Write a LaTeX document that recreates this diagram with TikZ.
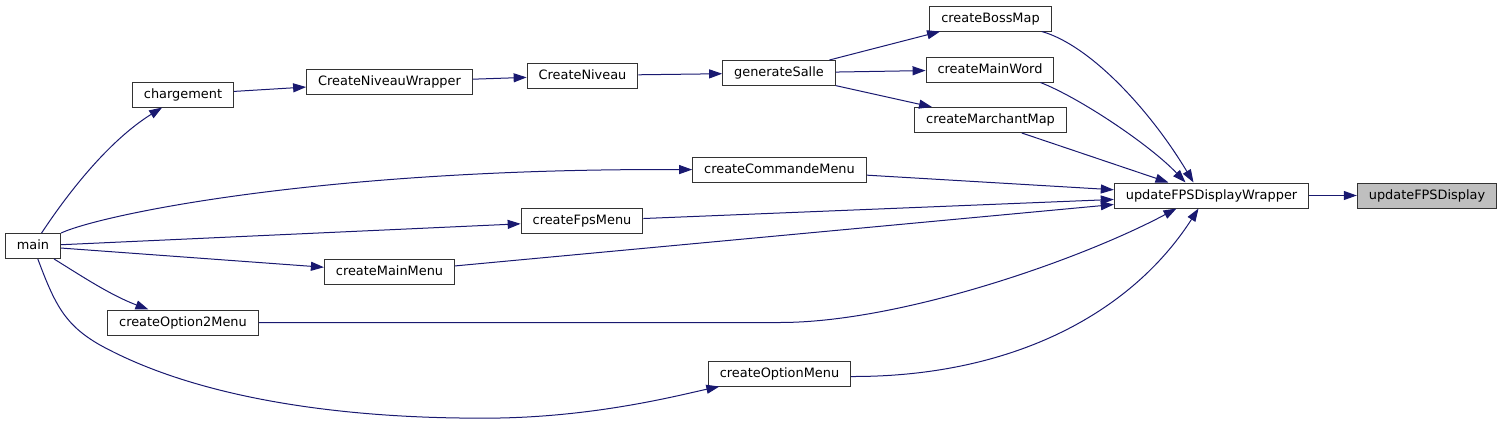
\documentclass[tikz,border=0pt]{standalone}
\usepackage{fontspec}
\setmainfont{DejaVu Sans}
\usepackage{tikz}
\usetikzlibrary{arrows.meta}
\definecolor{edgeblue}{RGB}{25,25,112}
\begin{document}
\begin{tikzpicture}[
x=1pt, y=-1pt,
box/.style={draw=black!80, line width=1pt, fill=white, inner xsep=11.5pt, inner ysep=0pt, minimum height=25pt, text height=9.5pt, text depth=2.5pt, font=\fontsize{12.9}{15}\selectfont},
arr/.style={-{Triangle[length=13pt,width=9pt]}, edgeblue, line width=1pt}
]
\useasboundingbox (0,0) rectangle (1503,423);
\node[box] (main) at (33,246) {main};
\node[box] (charg) at (183,94.5) {chargement};
\node[box] (niveauwrap) at (389.5,82) {CreateNiveauWrapper};
\node[box] (niveau) at (582.5,75.5) {CreateNiveau};
\node[box] (salle) at (779,73) {generateSalle};
\node[box] (bossmap) at (990.5,18.5) {createBossMap};
\node[box] (mainword) at (990,69.5) {createMainWord};
\node[box] (marchant) at (990.5,120) {createMarchantMap};
\node[box] (cmdmenu) at (779.5,170) {createCommandeMenu};
\node[box] (fpsmenu) at (582,221) {createFpsMenu};
\node[box] (mainmenu) at (389.5,272) {createMainMenu};
\node[box] (opt2menu) at (183,322.5) {createOption2Menu};
\node[box] (optmenu) at (779.5,373.5) {createOptionMenu};
\node[box] (wrapper) at (1211.5,195.5) {updateFPSDisplayWrapper};
\node[box, fill=black!25] (fpsdisplay) at (1427,195.5) {updateFPSDisplay};

\draw[arr] (main) .. controls (70,190) and (110,140) .. (charg);
\draw[arr] (charg) -- (niveauwrap);
\draw[arr] (niveauwrap) -- (niveau);
\draw[arr] (niveau) -- (salle);
\draw[arr] (salle) -- (bossmap);
\draw[arr] (salle) -- (mainword);
\draw[arr] (salle) -- (marchant);
\draw[arr] (main) .. controls (100,215) and (320,168) .. (cmdmenu);
\draw[arr] (main) -- (fpsmenu);
\draw[arr] (main) -- (mainmenu);
\draw[arr] (main) .. controls (80,275) and (110,295) .. (opt2menu);
\draw[arr] (main) .. controls (55,305) and (65,325) .. (100,345)
  .. controls (200,400) and (350,420) .. (500,418)
  .. controls (600,416) and (680,395) .. (optmenu);
\draw[arr] ([xshift=-10pt]bossmap.south east) .. controls (1090,45) and (1150,110) .. ([xshift=-18pt]wrapper.north);
\draw[arr] ([xshift=-14pt]mainword.south east) .. controls (1080,98) and (1150,145) .. ([xshift=-26pt]wrapper.north);
\draw[arr] ([xshift=-45pt]marchant.south east) -- ([xshift=-43pt]wrapper.north);
\draw[arr] (cmdmenu) -- (wrapper);
\draw[arr] (fpsmenu) -- (wrapper);
\draw[arr] (mainmenu) -- (wrapper);
\draw[arr] (opt2menu) -- (780,322.5) .. controls (900,322.5) and (1080,260) .. ([xshift=-35pt]wrapper.south);
\draw[arr] ([yshift=-3pt]optmenu.east) .. controls (1010,377) and (1130,315) .. ([xshift=-13pt]wrapper.south);
\draw[arr] (wrapper) -- (fpsdisplay);
\end{tikzpicture}
\end{document}
